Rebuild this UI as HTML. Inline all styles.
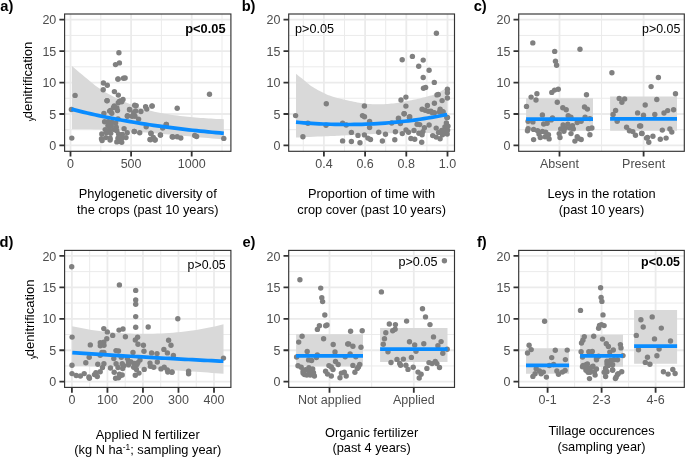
<!DOCTYPE html><html><head><meta charset="utf-8"><style>html,body{margin:0;padding:0;background:#fff;}svg{display:block;will-change:transform;font-family:"Liberation Sans",sans-serif;}</style></head><body>
<svg width="685" height="458" viewBox="0 0 685 458">
<rect width="685" height="458" fill="#fff"/>
<g id="pa">
<clipPath id="cpa"><rect x="64.6" y="14" width="166.3" height="137.3"/></clipPath>
<g clip-path="url(#cpa)">
<path d="M64.6 129.69H230.9M64.6 98.26H230.9M64.6 66.84H230.9M64.6 35.41H230.9M100.8 14V151.3M161.4 14V151.3M222 14V151.3" stroke="#EBEBEB" stroke-width="1.0" fill="none"/>
<path d="M64.6 145.4H230.9M64.6 113.98H230.9M64.6 82.55H230.9M64.6 51.12H230.9M64.6 19.7H230.9M70.5 14V151.3M131.1 14V151.3M191.7 14V151.3" stroke="#EBEBEB" stroke-width="1.8" fill="none"/>
<path d="M72.00 66.10L74.57 68.33L77.15 70.54L79.72 72.72L82.29 74.86L84.86 76.98L87.44 79.09L90.01 81.22L92.58 83.34L95.16 85.38L97.73 87.30L100.30 89.06L102.87 90.68L105.45 92.21L108.02 93.66L110.59 95.05L113.17 96.41L115.74 97.75L118.31 99.09L120.88 100.41L123.46 101.58L126.03 102.61L128.60 103.62L131.18 104.60L133.75 105.55L136.32 106.46L138.89 107.34L141.47 108.18L144.04 108.97L146.61 109.73L149.19 110.43L151.76 111.08L154.33 111.68L156.91 112.22L159.48 112.72L162.05 113.19L164.62 113.65L167.20 114.08L169.77 114.49L172.34 114.88L174.92 115.25L177.49 115.60L180.06 115.92L182.63 116.23L185.21 116.51L187.78 116.78L190.35 117.02L192.93 117.25L195.50 117.47L198.07 117.69L200.64 117.90L203.22 118.09L205.79 118.28L208.36 118.46L210.94 118.62L213.51 118.77L216.08 118.91L218.65 119.02L221.23 119.12L223.80 119.20L223.80 139.39L219.91 139.08L216.02 138.75L212.12 138.42L208.23 138.09L204.34 137.75L200.45 137.40L196.55 137.05L192.66 136.69L188.77 136.33L184.88 135.97L180.98 135.61L177.09 135.25L173.20 134.89L169.31 134.53L165.42 134.17L161.52 133.82L157.63 133.47L153.74 133.13L149.85 132.80L145.95 132.47L142.06 132.16L138.17 131.85L134.28 131.56L130.38 131.28L126.49 131.01L122.60 130.76L118.71 130.52L114.82 130.30L110.92 130.10L107.03 129.91L103.14 129.75L99.25 129.60L95.35 129.48L91.46 129.37L87.57 129.29L83.68 129.22L79.78 129.18L75.89 129.16L72.00 129.17Z" fill="#D9D9D9"/>
<g fill="#808080"><circle cx="71.8" cy="138.1" r="2.7"/><circle cx="75.1" cy="95.4" r="2.7"/><circle cx="71.4" cy="109.5" r="2.7"/><circle cx="118.9" cy="52.7" r="2.7"/><circle cx="119.4" cy="62.9" r="2.7"/><circle cx="115.5" cy="64.6" r="2.7"/><circle cx="118.1" cy="79" r="2.7"/><circle cx="125.1" cy="78" r="2.7"/><circle cx="103.4" cy="83" r="2.7"/><circle cx="107.3" cy="85.2" r="2.7"/><circle cx="103.2" cy="89.8" r="2.7"/><circle cx="117.9" cy="79.1" r="2.7"/><circle cx="123.5" cy="78.2" r="2.7"/><circle cx="114.4" cy="91.6" r="2.7"/><circle cx="118.3" cy="95.1" r="2.7"/><circle cx="107.1" cy="100.8" r="2.7"/><circle cx="120" cy="101.4" r="2.7"/><circle cx="123" cy="99.5" r="2.7"/><circle cx="107" cy="100.6" r="2.7"/><circle cx="119.6" cy="101.1" r="2.7"/><circle cx="121.7" cy="101.7" r="2.7"/><circle cx="114.3" cy="105.9" r="2.7"/><circle cx="116.9" cy="107.9" r="2.7"/><circle cx="109.6" cy="111.1" r="2.7"/><circle cx="103.9" cy="113.5" r="2.7"/><circle cx="117.5" cy="110.6" r="2.7"/><circle cx="129.5" cy="109.5" r="2.7"/><circle cx="127.4" cy="115.8" r="2.7"/><circle cx="133.7" cy="112.7" r="2.7"/><circle cx="134.7" cy="105.3" r="2.7"/><circle cx="118" cy="118.9" r="2.7"/><circle cx="134.2" cy="131.5" r="2.7"/><circle cx="136.2" cy="105.6" r="2.7"/><circle cx="129.7" cy="109.7" r="2.7"/><circle cx="135.6" cy="110.9" r="2.7"/><circle cx="140.9" cy="111.5" r="2.7"/><circle cx="145.6" cy="106.7" r="2.7"/><circle cx="146.8" cy="109.1" r="2.7"/><circle cx="152.1" cy="105.9" r="2.7"/><circle cx="127.4" cy="116.2" r="2.7"/><circle cx="132.1" cy="116.2" r="2.7"/><circle cx="135" cy="116.2" r="2.7"/><circle cx="138.6" cy="119.1" r="2.7"/><circle cx="146.2" cy="126.8" r="2.7"/><circle cx="166.3" cy="124.4" r="2.7"/><circle cx="162.7" cy="128" r="2.7"/><circle cx="134.4" cy="131.5" r="2.7"/><circle cx="139.7" cy="132.7" r="2.7"/><circle cx="150.9" cy="133.3" r="2.7"/><circle cx="160.4" cy="135" r="2.7"/><circle cx="150.4" cy="139.8" r="2.7"/><circle cx="155.1" cy="139.8" r="2.7"/><circle cx="153.3" cy="137.4" r="2.7"/><circle cx="172.2" cy="136.8" r="2.7"/><circle cx="209.5" cy="94.2" r="2.7"/><circle cx="177.2" cy="108.3" r="2.7"/><circle cx="152" cy="106.1" r="2.7"/><circle cx="166.3" cy="124.5" r="2.7"/><circle cx="151" cy="133.5" r="2.7"/><circle cx="150" cy="139.4" r="2.7"/><circle cx="155" cy="140" r="2.7"/><circle cx="160.5" cy="135.1" r="2.7"/><circle cx="172.8" cy="137" r="2.7"/><circle cx="177.2" cy="136.8" r="2.7"/><circle cx="180.8" cy="138" r="2.7"/><circle cx="194.7" cy="135.5" r="2.7"/><circle cx="196.6" cy="136.5" r="2.7"/><circle cx="223.8" cy="138.4" r="2.7"/><circle cx="104.6" cy="121.7" r="2.7"/><circle cx="108.2" cy="121.7" r="2.7"/><circle cx="111.9" cy="122.3" r="2.7"/><circle cx="115.6" cy="122.9" r="2.7"/><circle cx="107.9" cy="125.6" r="2.7"/><circle cx="111.3" cy="126" r="2.7"/><circle cx="116.2" cy="127.2" r="2.7"/><circle cx="105.2" cy="129.6" r="2.7"/><circle cx="109.5" cy="129.6" r="2.7"/><circle cx="114.3" cy="129.6" r="2.7"/><circle cx="116.8" cy="130.8" r="2.7"/><circle cx="101.8" cy="133.9" r="2.7"/><circle cx="106.4" cy="132.7" r="2.7"/><circle cx="110.7" cy="133.3" r="2.7"/><circle cx="101.5" cy="138.8" r="2.7"/><circle cx="105.8" cy="137.6" r="2.7"/><circle cx="110.1" cy="138.2" r="2.7"/><circle cx="102.1" cy="140.6" r="2.7"/><circle cx="110.1" cy="140" r="2.7"/><circle cx="124.1" cy="128.7" r="2.7"/><circle cx="118.6" cy="133.9" r="2.7"/><circle cx="122.3" cy="134.5" r="2.7"/><circle cx="126" cy="137.6" r="2.7"/><circle cx="121.7" cy="138.2" r="2.7"/><circle cx="118" cy="138.2" r="2.7"/><circle cx="116.8" cy="141.9" r="2.7"/><circle cx="121.7" cy="142.2" r="2.7"/><circle cx="119.2" cy="141.2" r="2.7"/><circle cx="127.2" cy="132.7" r="2.7"/><circle cx="118.3" cy="102.7" r="2.7"/><circle cx="113.5" cy="107.5" r="2.7"/><circle cx="110.5" cy="110.5" r="2.7"/><circle cx="111.8" cy="113.2" r="2.7"/><circle cx="120.3" cy="101.1" r="2.7"/></g>
<path d="M71.50 109.15L75.41 110.15L79.31 111.13L83.22 112.08L87.12 113.00L91.03 113.90L94.93 114.78L98.84 115.62L102.74 116.45L106.65 117.25L110.55 118.03L114.46 118.79L118.36 119.53L122.27 120.25L126.17 120.94L130.08 121.62L133.98 122.28L137.89 122.92L141.79 123.55L145.70 124.15L149.60 124.74L153.51 125.31L157.41 125.87L161.32 126.41L165.22 126.94L169.13 127.45L173.03 127.95L176.94 128.43L180.84 128.90L184.75 129.36L188.65 129.80L192.56 130.24L196.46 130.66L200.37 131.07L204.27 131.46L208.18 131.85L212.08 132.23L215.99 132.59L219.89 132.95L223.80 133.29" stroke="#0A8CFF" stroke-width="3.7" fill="none"/>
</g>
<rect x="64.6" y="14" width="166.3" height="137.3" fill="none" stroke="#333333" stroke-width="1.15"/>
<path d="M59.4 145.4H64.6M59.4 113.98H64.6M59.4 82.55H64.6M59.4 51.12H64.6M59.4 19.7H64.6M70.5 151.3V156.6M131.1 151.3V156.6M191.7 151.3V156.6" stroke="#333333" stroke-width="1.8" fill="none"/>
<g fill="#4D4D4D" font-size="12.5">
<text x="56.3" y="150" text-anchor="end">0</text>
<text x="56.3" y="118.58" text-anchor="end">5</text>
<text x="56.3" y="87.15" text-anchor="end">10</text>
<text x="56.3" y="55.73" text-anchor="end">15</text>
<text x="56.3" y="24.3" text-anchor="end">20</text>
<text x="70.5" y="168" text-anchor="middle">0</text>
<text x="131.1" y="168" text-anchor="middle">500</text>
<text x="191.7" y="168" text-anchor="middle">1000</text>
</g>
<g fill="#000" font-size="12.8" text-anchor="middle">
<text x="147.75" y="197.9">Phylogenetic diversity of</text>
<text x="147.75" y="213.7">the crops (past 10 years)</text>
</g>
<text x="225.5" y="32.8" font-size="12.8" text-anchor="end" font-weight="bold" fill="#000">p&lt;0.05</text>
<text x="13.4" y="11" font-size="14.7" font-weight="bold" text-anchor="end" fill="#000">a)</text>
</g>
<g id="pb">
<clipPath id="cpb"><rect x="288.7" y="14" width="165.8" height="137.3"/></clipPath>
<g clip-path="url(#cpb)">
<path d="M288.7 129.69H454.5M288.7 98.26H454.5M288.7 66.84H454.5M288.7 35.41H454.5M303.3 14V151.3M344.5 14V151.3M385.7 14V151.3M426.9 14V151.3" stroke="#EBEBEB" stroke-width="1.0" fill="none"/>
<path d="M288.7 145.4H454.5M288.7 113.98H454.5M288.7 82.55H454.5M288.7 51.12H454.5M288.7 19.7H454.5M323.9 14V151.3M365.1 14V151.3M406.3 14V151.3M447.5 14V151.3" stroke="#EBEBEB" stroke-width="1.8" fill="none"/>
<path d="M296.00 73.80L296.54 74.22L297.24 74.77L298.07 75.42L299.00 76.16L300.00 76.94L301.04 77.76L302.08 78.59L303.10 79.40L304.10 80.22L305.11 81.08L306.14 81.98L307.21 82.89L308.31 83.82L309.45 84.73L310.64 85.63L311.90 86.50L313.24 87.36L314.68 88.23L316.18 89.09L317.72 89.94L319.27 90.77L320.80 91.56L322.29 92.31L323.70 93.00L325.00 93.62L326.20 94.18L327.34 94.69L328.48 95.16L329.64 95.62L330.89 96.07L332.26 96.52L333.80 97.00L335.54 97.50L337.46 98.01L339.50 98.52L341.62 99.03L343.78 99.53L345.93 100.01L348.01 100.47L350.00 100.90L351.89 101.31L353.72 101.71L355.52 102.09L357.29 102.45L359.06 102.79L360.84 103.09L362.65 103.37L364.50 103.60L366.39 103.80L368.32 103.96L370.26 104.09L372.22 104.19L374.18 104.26L376.14 104.30L378.08 104.31L380.00 104.30L381.91 104.26L383.83 104.18L385.75 104.08L387.65 103.94L389.54 103.79L391.40 103.61L393.22 103.41L395.00 103.20L396.73 102.96L398.41 102.70L400.05 102.41L401.66 102.11L403.26 101.79L404.86 101.46L406.47 101.13L408.10 100.80L409.75 100.47L411.40 100.15L413.05 99.81L414.70 99.47L416.35 99.13L418.00 98.77L419.65 98.39L421.30 98.00L422.97 97.60L424.66 97.18L426.37 96.76L428.08 96.33L429.75 95.87L431.37 95.40L432.93 94.91L434.40 94.40L435.81 93.84L437.19 93.21L438.52 92.56L439.80 91.89L441.00 91.23L442.11 90.62L443.12 90.06L444.00 89.60L444.75 89.22L445.39 88.90L445.91 88.63L446.35 88.40L446.71 88.21L447.01 88.05L447.27 87.92L447.50 87.80L447.50 135.50L445.78 135.27L443.52 134.95L440.82 134.56L437.81 134.14L434.61 133.72L431.33 133.33L428.09 133.02L425.00 132.80L422.03 132.68L419.04 132.62L416.03 132.62L412.97 132.66L409.85 132.72L406.66 132.81L403.38 132.91L400.00 133.00L396.46 133.10L392.76 133.23L388.94 133.37L385.06 133.53L381.18 133.70L377.34 133.87L373.59 134.04L370.00 134.20L366.51 134.36L363.05 134.53L359.65 134.70L356.31 134.87L353.06 135.04L349.91 135.21L346.89 135.36L344.00 135.50L341.36 135.62L338.99 135.73L336.80 135.82L334.69 135.91L332.55 135.99L330.29 136.08L327.81 136.18L325.00 136.30L321.66 136.44L317.77 136.60L313.58 136.77L309.31 136.95L305.19 137.12L301.45 137.27L298.31 137.40L296.00 137.50Z" fill="#D9D9D9"/>
<g fill="#808080"><circle cx="295.6" cy="115.6" r="2.7"/><circle cx="302.9" cy="136.7" r="2.7"/><circle cx="307.9" cy="123.2" r="2.7"/><circle cx="326.3" cy="103.7" r="2.7"/><circle cx="326" cy="125.3" r="2.7"/><circle cx="342.6" cy="123.2" r="2.7"/><circle cx="346.2" cy="125" r="2.7"/><circle cx="351.4" cy="132.4" r="2.7"/><circle cx="342.6" cy="140.9" r="2.7"/><circle cx="351.4" cy="141.5" r="2.7"/><circle cx="358" cy="135.4" r="2.7"/><circle cx="360" cy="142.7" r="2.7"/><circle cx="364.4" cy="106" r="2.7"/><circle cx="362.5" cy="115.6" r="2.7"/><circle cx="364.5" cy="116.8" r="2.7"/><circle cx="369.6" cy="121.5" r="2.7"/><circle cx="369.6" cy="127.5" r="2.7"/><circle cx="364.4" cy="134.9" r="2.7"/><circle cx="367.9" cy="138.1" r="2.7"/><circle cx="370.5" cy="139.5" r="2.7"/><circle cx="378.7" cy="132.3" r="2.7"/><circle cx="385.5" cy="134.2" r="2.7"/><circle cx="382.4" cy="141" r="2.7"/><circle cx="391.7" cy="123" r="2.7"/><circle cx="398.5" cy="118.7" r="2.7"/><circle cx="400.4" cy="123.6" r="2.7"/><circle cx="395.4" cy="131.7" r="2.7"/><circle cx="394.8" cy="139.8" r="2.7"/><circle cx="404.1" cy="113.7" r="2.7"/><circle cx="409.7" cy="116.8" r="2.7"/><circle cx="402.3" cy="133.6" r="2.7"/><circle cx="406" cy="129.9" r="2.7"/><circle cx="408.5" cy="132.3" r="2.7"/><circle cx="410.9" cy="138.5" r="2.7"/><circle cx="414.7" cy="139.2" r="2.7"/><circle cx="414" cy="130.5" r="2.7"/><circle cx="417.1" cy="124.3" r="2.7"/><circle cx="428.3" cy="111.2" r="2.7"/><circle cx="432" cy="112.5" r="2.7"/><circle cx="447.5" cy="117.4" r="2.7"/><circle cx="439.5" cy="111.9" r="2.7"/><circle cx="443.2" cy="111.9" r="2.7"/><circle cx="436.4" cy="33.3" r="2.7"/><circle cx="402.2" cy="59.8" r="2.7"/><circle cx="412.4" cy="56.4" r="2.7"/><circle cx="423.2" cy="60.1" r="2.7"/><circle cx="418.7" cy="66.3" r="2.7"/><circle cx="429.1" cy="70.2" r="2.7"/><circle cx="423.2" cy="77.5" r="2.7"/><circle cx="434.3" cy="82.4" r="2.7"/><circle cx="423.5" cy="88.3" r="2.7"/><circle cx="425.6" cy="87.4" r="2.7"/><circle cx="405.9" cy="97.1" r="2.7"/><circle cx="401" cy="100" r="2.7"/><circle cx="405.9" cy="106.1" r="2.7"/><circle cx="404.2" cy="113.7" r="2.7"/><circle cx="398.5" cy="118.1" r="2.7"/><circle cx="409.4" cy="117.2" r="2.7"/><circle cx="437" cy="94.9" r="2.7"/><circle cx="438.3" cy="94.4" r="2.7"/><circle cx="442.1" cy="100.6" r="2.7"/><circle cx="447.4" cy="89.2" r="2.7"/><circle cx="447.4" cy="92.7" r="2.7"/><circle cx="447.4" cy="98" r="2.7"/><circle cx="434.4" cy="103.2" r="2.7"/><circle cx="427.4" cy="105.4" r="2.7"/><circle cx="422.1" cy="109.3" r="2.7"/><circle cx="425.2" cy="110.2" r="2.7"/><circle cx="430.9" cy="111.1" r="2.7"/><circle cx="434.4" cy="112.8" r="2.7"/><circle cx="440.1" cy="109.3" r="2.7"/><circle cx="442.3" cy="111.5" r="2.7"/><circle cx="446.8" cy="117.5" r="2.7"/><circle cx="446.4" cy="123" r="2.7"/><circle cx="448" cy="126.1" r="2.7"/><circle cx="447.6" cy="130.1" r="2.7"/><circle cx="447.2" cy="134" r="2.7"/><circle cx="444.9" cy="126.9" r="2.7"/><circle cx="436.2" cy="128.1" r="2.7"/><circle cx="441.7" cy="130.5" r="2.7"/><circle cx="438.6" cy="132.4" r="2.7"/><circle cx="432.7" cy="135.6" r="2.7"/><circle cx="436.2" cy="137.1" r="2.7"/><circle cx="440.1" cy="138.7" r="2.7"/><circle cx="442.5" cy="134.8" r="2.7"/><circle cx="444.9" cy="131.6" r="2.7"/><circle cx="429.1" cy="125" r="2.7"/><circle cx="424.4" cy="127.7" r="2.7"/><circle cx="419.7" cy="124.6" r="2.7"/><circle cx="422.9" cy="131.6" r="2.7"/><circle cx="418.9" cy="133.2" r="2.7"/><circle cx="422.1" cy="134.8" r="2.7"/><circle cx="421.7" cy="142.3" r="2.7"/></g>
<path d="M296.00 122.18L299.88 122.51L303.75 122.82L307.63 123.11L311.51 123.37L315.38 123.60L319.26 123.80L323.14 123.98L327.02 124.14L330.89 124.26L334.77 124.36L338.65 124.43L342.52 124.48L346.40 124.49L350.28 124.48L354.15 124.44L358.03 124.38L361.91 124.28L365.78 124.15L369.66 124.00L373.54 123.81L377.42 123.60L381.29 123.36L385.17 123.09L389.05 122.78L392.92 122.45L396.80 122.08L400.68 121.69L404.55 121.26L408.43 120.81L412.31 120.32L416.18 119.80L420.06 119.25L423.94 118.66L427.82 118.04L431.69 117.40L435.57 116.71L439.45 116.00L443.32 115.25L447.20 114.47" stroke="#0A8CFF" stroke-width="3.7" fill="none"/>
</g>
<rect x="288.7" y="14" width="165.8" height="137.3" fill="none" stroke="#333333" stroke-width="1.15"/>
<path d="M283.5 145.4H288.7M283.5 113.98H288.7M283.5 82.55H288.7M283.5 51.12H288.7M283.5 19.7H288.7M323.9 151.3V156.6M365.1 151.3V156.6M406.3 151.3V156.6M447.5 151.3V156.6" stroke="#333333" stroke-width="1.8" fill="none"/>
<g fill="#4D4D4D" font-size="12.5">
<text x="280.4" y="150" text-anchor="end">0</text>
<text x="280.4" y="118.58" text-anchor="end">5</text>
<text x="280.4" y="87.15" text-anchor="end">10</text>
<text x="280.4" y="55.73" text-anchor="end">15</text>
<text x="280.4" y="24.3" text-anchor="end">20</text>
<text x="323.9" y="168" text-anchor="middle">0.4</text>
<text x="365.1" y="168" text-anchor="middle">0.6</text>
<text x="406.3" y="168" text-anchor="middle">0.8</text>
<text x="447.5" y="168" text-anchor="middle">1.0</text>
</g>
<g fill="#000" font-size="12.8" text-anchor="middle">
<text x="371.6" y="197.9">Proportion of time with</text>
<text x="371.6" y="213.7">crop cover (past 10 years)</text>
</g>
<text x="295.1" y="32.9" font-size="12.6" text-anchor="start" fill="#000">p&gt;0.05</text>
<text x="255.5" y="11" font-size="14.7" font-weight="bold" text-anchor="end" fill="#000">b)</text>
</g>
<g id="pc">
<clipPath id="cpc"><rect x="518.7" y="14" width="165.6" height="137.3"/></clipPath>
<g clip-path="url(#cpc)">
<path d="M518.7 129.69H684.3M518.7 98.26H684.3M518.7 66.84H684.3M518.7 35.41H684.3M601.55 14V151.3" stroke="#EBEBEB" stroke-width="1.0" fill="none"/>
<path d="M518.7 145.4H684.3M518.7 113.98H684.3M518.7 82.55H684.3M518.7 51.12H684.3M518.7 19.7H684.3M559.5 14V151.3M643.6 14V151.3" stroke="#EBEBEB" stroke-width="1.8" fill="none"/>
<path d="M526.10 98.30H593.00V130.70H526.10Z" fill="#D9D9D9"/>
<path d="M610.10 96.40H677.00V130.80H610.10Z" fill="#D9D9D9"/>
<g fill="#808080"><circle cx="532.8" cy="42.9" r="2.7"/><circle cx="554.7" cy="51.4" r="2.7"/><circle cx="580" cy="49.3" r="2.7"/><circle cx="555.5" cy="61.2" r="2.7"/><circle cx="556.6" cy="65.2" r="2.7"/><circle cx="536.9" cy="93.8" r="2.7"/><circle cx="531.1" cy="97.1" r="2.7"/><circle cx="536" cy="100" r="2.7"/><circle cx="526.5" cy="106.4" r="2.7"/><circle cx="551.8" cy="92.4" r="2.7"/><circle cx="554.6" cy="90.1" r="2.7"/><circle cx="558.3" cy="89.2" r="2.7"/><circle cx="557.3" cy="102.3" r="2.7"/><circle cx="542.4" cy="114.9" r="2.7"/><circle cx="528.1" cy="121.3" r="2.7"/><circle cx="532.9" cy="121.9" r="2.7"/><circle cx="543.7" cy="124" r="2.7"/><circle cx="547.1" cy="123.3" r="2.7"/><circle cx="551.2" cy="119.9" r="2.7"/><circle cx="552.5" cy="117.9" r="2.7"/><circle cx="528.1" cy="128.7" r="2.7"/><circle cx="527.5" cy="130.7" r="2.7"/><circle cx="533.6" cy="129.4" r="2.7"/><circle cx="537.6" cy="130.7" r="2.7"/><circle cx="539" cy="134.1" r="2.7"/><circle cx="542.4" cy="131.4" r="2.7"/><circle cx="545.7" cy="132.1" r="2.7"/><circle cx="540.3" cy="137.5" r="2.7"/><circle cx="545.1" cy="136.8" r="2.7"/><circle cx="548.5" cy="134.8" r="2.7"/><circle cx="549.1" cy="138.9" r="2.7"/><circle cx="533.6" cy="139.6" r="2.7"/><circle cx="586.5" cy="94.8" r="2.7"/><circle cx="562.8" cy="107.7" r="2.7"/><circle cx="566.2" cy="109.7" r="2.7"/><circle cx="584.5" cy="107" r="2.7"/><circle cx="587.4" cy="109.1" r="2.7"/><circle cx="568.2" cy="115.8" r="2.7"/><circle cx="570.9" cy="117.2" r="2.7"/><circle cx="585.1" cy="117.2" r="2.7"/><circle cx="589.9" cy="118.6" r="2.7"/><circle cx="581.1" cy="121.3" r="2.7"/><circle cx="588.5" cy="128.7" r="2.7"/><circle cx="591.9" cy="128" r="2.7"/><circle cx="589.9" cy="134.8" r="2.7"/><circle cx="611.9" cy="72.7" r="2.7"/><circle cx="658.4" cy="77.5" r="2.7"/><circle cx="651.1" cy="86.6" r="2.7"/><circle cx="675.5" cy="93.8" r="2.7"/><circle cx="656.8" cy="99.5" r="2.7"/><circle cx="619.2" cy="98.4" r="2.7"/><circle cx="624.6" cy="98.9" r="2.7"/><circle cx="621.9" cy="102.3" r="2.7"/><circle cx="615.6" cy="110.4" r="2.7"/><circle cx="613.1" cy="114.5" r="2.7"/><circle cx="617.2" cy="121.3" r="2.7"/><circle cx="645.2" cy="105" r="2.7"/><circle cx="637.6" cy="112.9" r="2.7"/><circle cx="643.5" cy="115.3" r="2.7"/><circle cx="639.6" cy="126" r="2.7"/><circle cx="626.6" cy="127.3" r="2.7"/><circle cx="629.4" cy="130.7" r="2.7"/><circle cx="632.8" cy="131.6" r="2.7"/><circle cx="635.5" cy="135.2" r="2.7"/><circle cx="641.6" cy="133.4" r="2.7"/><circle cx="646.5" cy="138.1" r="2.7"/><circle cx="654.8" cy="114.4" r="2.7"/><circle cx="664" cy="113" r="2.7"/><circle cx="667.7" cy="110.6" r="2.7"/><circle cx="673.6" cy="109.7" r="2.7"/><circle cx="640.7" cy="126" r="2.7"/><circle cx="642" cy="133.5" r="2.7"/><circle cx="647.5" cy="137.5" r="2.7"/><circle cx="648.8" cy="142.2" r="2.7"/><circle cx="652.9" cy="136.2" r="2.7"/><circle cx="660.3" cy="139.3" r="2.7"/><circle cx="666.1" cy="138.1" r="2.7"/><circle cx="662.3" cy="130.1" r="2.7"/><circle cx="669.9" cy="128.9" r="2.7"/><circle cx="671.8" cy="132.1" r="2.7"/><circle cx="563.1" cy="124.9" r="2.7"/><circle cx="567.8" cy="124.2" r="2.7"/><circle cx="572.5" cy="125.7" r="2.7"/><circle cx="560.7" cy="128.9" r="2.7"/><circle cx="565.4" cy="128.1" r="2.7"/><circle cx="570.2" cy="128.1" r="2.7"/><circle cx="573.3" cy="128.9" r="2.7"/><circle cx="559.2" cy="133.6" r="2.7"/><circle cx="563.9" cy="131.2" r="2.7"/><circle cx="571" cy="133.6" r="2.7"/><circle cx="560" cy="137.5" r="2.7"/><circle cx="577.2" cy="136.7" r="2.7"/><circle cx="574.9" cy="141.1" r="2.7"/><circle cx="581.2" cy="139.5" r="2.7"/><circle cx="577.2" cy="122.6" r="2.7"/><circle cx="578.8" cy="138.6" r="2.7"/></g>
<path d="M526.1 119.15H593.0" stroke="#0A8CFF" stroke-width="3.7" fill="none"/>
<path d="M610.1 118.8H677.0" stroke="#0A8CFF" stroke-width="3.7" fill="none"/>
</g>
<rect x="518.7" y="14" width="165.6" height="137.3" fill="none" stroke="#333333" stroke-width="1.15"/>
<path d="M513.5 145.4H518.7M513.5 113.98H518.7M513.5 82.55H518.7M513.5 51.12H518.7M513.5 19.7H518.7M559.5 151.3V156.6M643.6 151.3V156.6" stroke="#333333" stroke-width="1.8" fill="none"/>
<g fill="#4D4D4D" font-size="12.5">
<text x="510.4" y="150" text-anchor="end">0</text>
<text x="510.4" y="118.58" text-anchor="end">5</text>
<text x="510.4" y="87.15" text-anchor="end">10</text>
<text x="510.4" y="55.73" text-anchor="end">15</text>
<text x="510.4" y="24.3" text-anchor="end">20</text>
<text x="559.5" y="168" text-anchor="middle">Absent</text>
<text x="643.6" y="168" text-anchor="middle">Present</text>
</g>
<g fill="#000" font-size="12.8" text-anchor="middle">
<text x="601.5" y="197.9">Leys in the rotation</text>
<text x="601.5" y="213.7">(past 10 years)</text>
</g>
<text x="680.3" y="32.8" font-size="12.4" text-anchor="end" fill="#000">p&gt;0.05</text>
<text x="486.7" y="11" font-size="14.7" font-weight="bold" text-anchor="end" fill="#000">c)</text>
</g>
<g id="pd">
<clipPath id="cpd"><rect x="64.6" y="250.4" width="166.3" height="137"/></clipPath>
<g clip-path="url(#cpd)">
<path d="M64.6 365.97H230.9M64.6 334.52H230.9M64.6 303.07H230.9M64.6 271.62H230.9M89.66 250.4V387.4M125.19 250.4V387.4M160.71 250.4V387.4M196.24 250.4V387.4" stroke="#EBEBEB" stroke-width="1.0" fill="none"/>
<path d="M64.6 381.7H230.9M64.6 350.25H230.9M64.6 318.8H230.9M64.6 287.35H230.9M64.6 255.9H230.9M71.9 250.4V387.4M107.43 250.4V387.4M142.95 250.4V387.4M178.48 250.4V387.4M214 250.4V387.4" stroke="#EBEBEB" stroke-width="1.8" fill="none"/>
<path d="M72.10 326.21L75.98 327.07L79.86 327.86L83.75 328.60L87.63 329.28L91.51 329.91L95.39 330.49L99.27 331.02L103.16 331.50L107.04 331.93L110.92 332.31L114.80 332.65L118.68 332.95L122.57 333.20L126.45 333.41L130.33 333.58L134.21 333.70L138.09 333.78L141.98 333.83L145.86 333.83L149.74 333.78L153.62 333.70L157.51 333.58L161.39 333.41L165.27 333.20L169.15 332.95L173.03 332.66L176.92 332.32L180.80 331.93L184.68 331.50L188.56 331.02L192.44 330.50L196.33 329.92L200.21 329.29L204.09 328.61L207.97 327.87L211.85 327.08L215.74 326.22L219.62 325.31L223.50 324.32L223.50 373.67L219.62 373.41L215.74 373.15L211.85 372.88L207.97 372.62L204.09 372.35L200.21 372.09L196.33 371.82L192.44 371.56L188.56 371.29L184.68 371.03L180.80 370.77L176.92 370.51L173.03 370.26L169.15 370.01L165.27 369.76L161.39 369.52L157.51 369.28L153.62 369.05L149.74 368.82L145.86 368.60L141.98 368.38L138.09 368.18L134.21 367.98L130.33 367.78L126.45 367.60L122.57 367.43L118.68 367.26L114.80 367.11L110.92 366.96L107.04 366.82L103.16 366.70L99.27 366.58L95.39 366.48L91.51 366.39L87.63 366.31L83.75 366.24L79.86 366.18L75.98 366.14L72.10 366.11Z" fill="#D9D9D9"/>
<g fill="#808080"><circle cx="71.7" cy="266.8" r="2.7"/><circle cx="119.4" cy="284.9" r="2.7"/><circle cx="135.7" cy="290.4" r="2.7"/><circle cx="135.7" cy="300" r="2.7"/><circle cx="135.7" cy="304.2" r="2.7"/><circle cx="135.7" cy="316.6" r="2.7"/><circle cx="135.7" cy="327.3" r="2.7"/><circle cx="148.2" cy="327" r="2.7"/><circle cx="177.8" cy="318.8" r="2.7"/><circle cx="72.1" cy="337.1" r="2.7"/><circle cx="90.3" cy="344.9" r="2.7"/><circle cx="103.8" cy="328.6" r="2.7"/><circle cx="107.3" cy="331.9" r="2.7"/><circle cx="112.7" cy="335.4" r="2.7"/><circle cx="106.8" cy="338.7" r="2.7"/><circle cx="100.3" cy="342.8" r="2.7"/><circle cx="103.8" cy="342.2" r="2.7"/><circle cx="100.3" cy="345.7" r="2.7"/><circle cx="104" cy="345.3" r="2.7"/><circle cx="119" cy="330.1" r="2.7"/><circle cx="123" cy="329" r="2.7"/><circle cx="125.4" cy="336.7" r="2.7"/><circle cx="137.6" cy="337.2" r="2.7"/><circle cx="135.3" cy="340" r="2.7"/><circle cx="138" cy="344.2" r="2.7"/><circle cx="143.4" cy="345.3" r="2.7"/><circle cx="116" cy="350.6" r="2.7"/><circle cx="144" cy="351.3" r="2.7"/><circle cx="133" cy="352.4" r="2.7"/><circle cx="151.6" cy="352.9" r="2.7"/><circle cx="157" cy="353.6" r="2.7"/><circle cx="168.6" cy="340.2" r="2.7"/><circle cx="171" cy="345.3" r="2.7"/><circle cx="163.9" cy="349.4" r="2.7"/><circle cx="167.4" cy="352.9" r="2.7"/><circle cx="173.4" cy="355.5" r="2.7"/><circle cx="102" cy="352.4" r="2.7"/><circle cx="72" cy="365.2" r="2.7"/><circle cx="72" cy="373.6" r="2.7"/><circle cx="76.2" cy="375.5" r="2.7"/><circle cx="80.4" cy="376" r="2.7"/><circle cx="84.2" cy="373.6" r="2.7"/><circle cx="88.9" cy="376.9" r="2.7"/><circle cx="89.4" cy="378.3" r="2.7"/><circle cx="85.8" cy="362.8" r="2.7"/><circle cx="89.2" cy="357.2" r="2.7"/><circle cx="103.9" cy="352.5" r="2.7"/><circle cx="100.2" cy="355.3" r="2.7"/><circle cx="97.8" cy="364.2" r="2.7"/><circle cx="103.9" cy="363.8" r="2.7"/><circle cx="102.5" cy="367.5" r="2.7"/><circle cx="100.2" cy="371.8" r="2.7"/><circle cx="95.9" cy="372.7" r="2.7"/><circle cx="94.5" cy="374.6" r="2.7"/><circle cx="97.3" cy="376.5" r="2.7"/><circle cx="110.5" cy="368" r="2.7"/><circle cx="113.8" cy="358.6" r="2.7"/><circle cx="116.1" cy="363.8" r="2.7"/><circle cx="118" cy="367.5" r="2.7"/><circle cx="114.2" cy="372.2" r="2.7"/><circle cx="119.4" cy="374.1" r="2.7"/><circle cx="115.6" cy="378.3" r="2.7"/><circle cx="121.3" cy="357.2" r="2.7"/><circle cx="122.2" cy="363.8" r="2.7"/><circle cx="122.7" cy="368.5" r="2.7"/><circle cx="122.2" cy="375" r="2.7"/><circle cx="127.4" cy="358.4" r="2.7"/><circle cx="118.5" cy="351" r="2.7"/><circle cx="140" cy="359.9" r="2.7"/><circle cx="137.9" cy="362.6" r="2.7"/><circle cx="123.8" cy="365.7" r="2.7"/><circle cx="128.5" cy="364.7" r="2.7"/><circle cx="133.7" cy="367.3" r="2.7"/><circle cx="136.4" cy="369.4" r="2.7"/><circle cx="135.3" cy="375.2" r="2.7"/><circle cx="139" cy="373.1" r="2.7"/><circle cx="120.1" cy="375.7" r="2.7"/><circle cx="118.5" cy="377.8" r="2.7"/><circle cx="144.2" cy="369.4" r="2.7"/><circle cx="150" cy="363.1" r="2.7"/><circle cx="150.5" cy="366.2" r="2.7"/><circle cx="153.7" cy="367.3" r="2.7"/><circle cx="157.3" cy="362" r="2.7"/><circle cx="161" cy="368.9" r="2.7"/><circle cx="164.2" cy="367.3" r="2.7"/><circle cx="167.3" cy="369.9" r="2.7"/><circle cx="167.8" cy="372" r="2.7"/><circle cx="172" cy="372" r="2.7"/><circle cx="171.9" cy="372.2" r="2.7"/><circle cx="223.5" cy="358.1" r="2.7"/><circle cx="188.6" cy="371.3" r="2.7"/><circle cx="188.6" cy="373.7" r="2.7"/><circle cx="131" cy="362" r="2.7"/><circle cx="134.5" cy="363.5" r="2.7"/><circle cx="128.5" cy="361.5" r="2.7"/><circle cx="136.9" cy="364.5" r="2.7"/></g>
<path d="M72.30 352.55L76.17 352.82L80.05 353.08L83.92 353.34L87.80 353.59L91.67 353.85L95.55 354.10L99.42 354.35L103.29 354.60L107.17 354.84L111.04 355.09L114.92 355.33L118.79 355.56L122.67 355.80L126.54 356.03L130.42 356.27L134.29 356.50L138.16 356.72L142.04 356.95L145.91 357.17L149.79 357.40L153.66 357.62L157.54 357.83L161.41 358.05L165.28 358.26L169.16 358.47L173.03 358.68L176.91 358.89L180.78 359.10L184.66 359.30L188.53 359.51L192.41 359.71L196.28 359.90L200.15 360.10L204.03 360.30L207.90 360.49L211.78 360.68L215.65 360.87L219.53 361.06L223.40 361.25" stroke="#0A8CFF" stroke-width="3.7" fill="none"/>
</g>
<rect x="64.6" y="250.4" width="166.3" height="137" fill="none" stroke="#333333" stroke-width="1.15"/>
<path d="M59.4 381.7H64.6M59.4 350.25H64.6M59.4 318.8H64.6M59.4 287.35H64.6M59.4 255.9H64.6M71.9 387.4V392.7M107.43 387.4V392.7M142.95 387.4V392.7M178.48 387.4V392.7M214 387.4V392.7" stroke="#333333" stroke-width="1.8" fill="none"/>
<g fill="#4D4D4D" font-size="12.5">
<text x="56.3" y="386.3" text-anchor="end">0</text>
<text x="56.3" y="354.85" text-anchor="end">5</text>
<text x="56.3" y="323.4" text-anchor="end">10</text>
<text x="56.3" y="291.95" text-anchor="end">15</text>
<text x="56.3" y="260.5" text-anchor="end">20</text>
<text x="71.9" y="404.1" text-anchor="middle">0</text>
<text x="107.43" y="404.1" text-anchor="middle">100</text>
<text x="142.95" y="404.1" text-anchor="middle">200</text>
<text x="178.48" y="404.1" text-anchor="middle">300</text>
<text x="214" y="404.1" text-anchor="middle">400</text>
</g>
<g fill="#000" font-size="12.8" text-anchor="middle">
<text x="147.75" y="439.1">Applied N fertilizer</text>
<text x="147.75" y="454.3">(kg N ha<tspan font-size="8.4" dy="-4.1">-1</tspan><tspan dy="4.1">; sampling year)</tspan></text>
</g>
<text x="225.7" y="269.4" font-size="12.35" text-anchor="end" fill="#000">p&gt;0.05</text>
<text x="13.4" y="247" font-size="14.7" font-weight="bold" text-anchor="end" fill="#000">d)</text>
</g>
<g id="pe">
<clipPath id="cpe"><rect x="288.7" y="250.4" width="165.8" height="137"/></clipPath>
<g clip-path="url(#cpe)">
<path d="M288.7 365.97H454.5M288.7 334.52H454.5M288.7 303.07H454.5M288.7 271.62H454.5M371.65 250.4V387.4" stroke="#EBEBEB" stroke-width="1.0" fill="none"/>
<path d="M288.7 381.7H454.5M288.7 350.25H454.5M288.7 318.8H454.5M288.7 287.35H454.5M288.7 255.9H454.5M329.5 250.4V387.4M413.8 250.4V387.4" stroke="#EBEBEB" stroke-width="1.8" fill="none"/>
<path d="M296.10 334.20H363.00V366.60H296.10Z" fill="#D9D9D9"/>
<path d="M380.10 327.90H447.50V361.90H380.10Z" fill="#D9D9D9"/>
<g fill="#808080"><circle cx="299.9" cy="279.7" r="2.7"/><circle cx="320.7" cy="288.1" r="2.7"/><circle cx="321.8" cy="297.8" r="2.7"/><circle cx="322.6" cy="301.6" r="2.7"/><circle cx="324.8" cy="315" r="2.7"/><circle cx="319.4" cy="325.7" r="2.7"/><circle cx="317.4" cy="329.4" r="2.7"/><circle cx="325.7" cy="325.7" r="2.7"/><circle cx="302.1" cy="336.2" r="2.7"/><circle cx="298.7" cy="342.1" r="2.7"/><circle cx="323.6" cy="338.8" r="2.7"/><circle cx="307.2" cy="351.5" r="2.7"/><circle cx="296.6" cy="357" r="2.7"/><circle cx="308.6" cy="359.9" r="2.7"/><circle cx="311.6" cy="360.5" r="2.7"/><circle cx="317.3" cy="354.9" r="2.7"/><circle cx="316.4" cy="357.6" r="2.7"/><circle cx="298" cy="365.8" r="2.7"/><circle cx="301.2" cy="367.3" r="2.7"/><circle cx="308.9" cy="367.6" r="2.7"/><circle cx="312.7" cy="368.9" r="2.7"/><circle cx="303.1" cy="371.3" r="2.7"/><circle cx="304.5" cy="374.5" r="2.7"/><circle cx="310.2" cy="375" r="2.7"/><circle cx="314.4" cy="376" r="2.7"/><circle cx="309.2" cy="371.7" r="2.7"/><circle cx="313.5" cy="372.7" r="2.7"/><circle cx="333.2" cy="344.5" r="2.7"/><circle cx="335" cy="352" r="2.7"/><circle cx="335.5" cy="361.5" r="2.7"/><circle cx="338.2" cy="364.5" r="2.7"/><circle cx="328.9" cy="365.6" r="2.7"/><circle cx="331.3" cy="367" r="2.7"/><circle cx="325.6" cy="371.3" r="2.7"/><circle cx="327.5" cy="374.1" r="2.7"/><circle cx="331.3" cy="376" r="2.7"/><circle cx="340" cy="377.8" r="2.7"/><circle cx="327" cy="325" r="2.7"/><circle cx="350.6" cy="331.2" r="2.7"/><circle cx="362.2" cy="330.8" r="2.7"/><circle cx="348.7" cy="343.9" r="2.7"/><circle cx="352.9" cy="346.2" r="2.7"/><circle cx="361" cy="347.2" r="2.7"/><circle cx="345.2" cy="356.8" r="2.7"/><circle cx="350.1" cy="353.9" r="2.7"/><circle cx="355.8" cy="356.8" r="2.7"/><circle cx="352.9" cy="365.4" r="2.7"/><circle cx="359.7" cy="364.5" r="2.7"/><circle cx="354.9" cy="372.2" r="2.7"/><circle cx="341.4" cy="373.1" r="2.7"/><circle cx="344.3" cy="372.2" r="2.7"/><circle cx="346.2" cy="376" r="2.7"/><circle cx="444.4" cy="260.8" r="2.7"/><circle cx="381.4" cy="291.9" r="2.7"/><circle cx="422.5" cy="308.8" r="2.7"/><circle cx="425.5" cy="316.9" r="2.7"/><circle cx="406.6" cy="321.1" r="2.7"/><circle cx="389.3" cy="324" r="2.7"/><circle cx="395.4" cy="324.6" r="2.7"/><circle cx="430" cy="324.6" r="2.7"/><circle cx="392.7" cy="330.7" r="2.7"/><circle cx="395.1" cy="329.2" r="2.7"/><circle cx="385.8" cy="332.7" r="2.7"/><circle cx="384.5" cy="338.8" r="2.7"/><circle cx="433.5" cy="336.9" r="2.7"/><circle cx="383.3" cy="344.2" r="2.7"/><circle cx="409.5" cy="341.7" r="2.7"/><circle cx="414.7" cy="344.9" r="2.7"/><circle cx="423.8" cy="343.7" r="2.7"/><circle cx="441.1" cy="341.6" r="2.7"/><circle cx="437.9" cy="345.8" r="2.7"/><circle cx="388" cy="351.8" r="2.7"/><circle cx="416" cy="351.2" r="2.7"/><circle cx="447.2" cy="349.3" r="2.7"/><circle cx="442.8" cy="353.2" r="2.7"/><circle cx="411.4" cy="357.4" r="2.7"/><circle cx="391" cy="362.5" r="2.7"/><circle cx="397" cy="359.4" r="2.7"/><circle cx="403.4" cy="359.1" r="2.7"/><circle cx="399.7" cy="363.5" r="2.7"/><circle cx="400.6" cy="365.2" r="2.7"/><circle cx="405.9" cy="365.2" r="2.7"/><circle cx="408" cy="369.4" r="2.7"/><circle cx="413.2" cy="367.3" r="2.7"/><circle cx="418" cy="372.1" r="2.7"/><circle cx="421.1" cy="374.2" r="2.7"/><circle cx="419.2" cy="378" r="2.7"/><circle cx="426.9" cy="368.4" r="2.7"/><circle cx="429" cy="362.6" r="2.7"/><circle cx="432.1" cy="363.6" r="2.7"/><circle cx="435.3" cy="361.5" r="2.7"/><circle cx="436.9" cy="363.6" r="2.7"/><circle cx="439.5" cy="367.5" r="2.7"/><circle cx="347.7" cy="344" r="2.7"/><circle cx="357.3" cy="368.4" r="2.7"/><circle cx="333" cy="369.5" r="2.7"/><circle cx="305.6" cy="369.6" r="2.7"/><circle cx="306.8" cy="375" r="2.7"/><circle cx="303.2" cy="373.2" r="2.7"/><circle cx="358.5" cy="367" r="2.7"/></g>
<path d="M296.1 355.8H363.0" stroke="#0A8CFF" stroke-width="3.7" fill="none"/>
<path d="M380.1 349.1H447.5" stroke="#0A8CFF" stroke-width="3.7" fill="none"/>
</g>
<rect x="288.7" y="250.4" width="165.8" height="137" fill="none" stroke="#333333" stroke-width="1.15"/>
<path d="M283.5 381.7H288.7M283.5 350.25H288.7M283.5 318.8H288.7M283.5 287.35H288.7M283.5 255.9H288.7M329.5 387.4V392.7M413.8 387.4V392.7" stroke="#333333" stroke-width="1.8" fill="none"/>
<g fill="#4D4D4D" font-size="12.5">
<text x="280.4" y="386.3" text-anchor="end">0</text>
<text x="280.4" y="354.85" text-anchor="end">5</text>
<text x="280.4" y="323.4" text-anchor="end">10</text>
<text x="280.4" y="291.95" text-anchor="end">15</text>
<text x="280.4" y="260.5" text-anchor="end">20</text>
<text x="329.5" y="404.1" text-anchor="middle">Not applied</text>
<text x="413.8" y="404.1" text-anchor="middle">Applied</text>
</g>
<g fill="#000" font-size="12.8" text-anchor="middle">
<text x="371.6" y="436.5">Organic fertilizer</text>
<text x="371.6" y="452.3">(past 4 years)</text>
</g>
<text x="437.4" y="266.3" font-size="12.6" text-anchor="end" fill="#000">p&gt;0.05</text>
<text x="255.5" y="247" font-size="14.7" font-weight="bold" text-anchor="end" fill="#000">e)</text>
</g>
<g id="pf">
<clipPath id="cpf"><rect x="518.7" y="250.4" width="165.6" height="137"/></clipPath>
<g clip-path="url(#cpf)">
<path d="M518.7 365.97H684.3M518.7 334.52H684.3M518.7 303.07H684.3M518.7 271.62H684.3M574.6 250.4V387.4M628.6 250.4V387.4" stroke="#EBEBEB" stroke-width="1.0" fill="none"/>
<path d="M518.7 381.7H684.3M518.7 350.25H684.3M518.7 318.8H684.3M518.7 287.35H684.3M518.7 255.9H684.3M547.6 250.4V387.4M601.6 250.4V387.4M655.6 250.4V387.4" stroke="#EBEBEB" stroke-width="1.8" fill="none"/>
<path d="M526.00 348.30H569.10V373.70H526.00Z" fill="#D9D9D9"/>
<path d="M580.10 334.80H623.00V366.80H580.10Z" fill="#D9D9D9"/>
<path d="M634.10 310.00H677.10V363.75H634.10Z" fill="#D9D9D9"/>
<g fill="#808080"><circle cx="544.6" cy="321.3" r="2.7"/><circle cx="529.1" cy="345.2" r="2.7"/><circle cx="531.2" cy="349.6" r="2.7"/><circle cx="527.5" cy="353" r="2.7"/><circle cx="555.3" cy="350.2" r="2.7"/><circle cx="567.2" cy="350.1" r="2.7"/><circle cx="551.7" cy="357.6" r="2.7"/><circle cx="565.4" cy="359.6" r="2.7"/><circle cx="549.3" cy="365.5" r="2.7"/><circle cx="553.6" cy="364.5" r="2.7"/><circle cx="536.2" cy="368.8" r="2.7"/><circle cx="539.5" cy="371" r="2.7"/><circle cx="543.3" cy="372.1" r="2.7"/><circle cx="532.9" cy="376.4" r="2.7"/><circle cx="535.1" cy="373.7" r="2.7"/><circle cx="546.4" cy="377.1" r="2.7"/><circle cx="556.9" cy="371" r="2.7"/><circle cx="558.5" cy="374.3" r="2.7"/><circle cx="562.4" cy="372.1" r="2.7"/><circle cx="565.1" cy="370.5" r="2.7"/><circle cx="541.1" cy="373.7" r="2.7"/><circle cx="600.6" cy="287.7" r="2.7"/><circle cx="601.1" cy="297.5" r="2.7"/><circle cx="601.9" cy="301.4" r="2.7"/><circle cx="580.5" cy="310.4" r="2.7"/><circle cx="603" cy="314.9" r="2.7"/><circle cx="599.5" cy="325.5" r="2.7"/><circle cx="604.1" cy="325.6" r="2.7"/><circle cx="601.5" cy="324.6" r="2.7"/><circle cx="598.6" cy="328.3" r="2.7"/><circle cx="584.3" cy="336.7" r="2.7"/><circle cx="593.7" cy="336.3" r="2.7"/><circle cx="602.5" cy="339.1" r="2.7"/><circle cx="582.9" cy="340.2" r="2.7"/><circle cx="581.5" cy="343" r="2.7"/><circle cx="606.3" cy="343.7" r="2.7"/><circle cx="608.4" cy="346.5" r="2.7"/><circle cx="620.4" cy="344.6" r="2.7"/><circle cx="621" cy="347.9" r="2.7"/><circle cx="581.1" cy="351.7" r="2.7"/><circle cx="588.8" cy="351.7" r="2.7"/><circle cx="592.3" cy="351.4" r="2.7"/><circle cx="613.3" cy="350" r="2.7"/><circle cx="609.8" cy="352.1" r="2.7"/><circle cx="582.5" cy="357" r="2.7"/><circle cx="598.6" cy="356.3" r="2.7"/><circle cx="596.5" cy="359.8" r="2.7"/><circle cx="623" cy="355.6" r="2.7"/><circle cx="617.5" cy="359.8" r="2.7"/><circle cx="609.1" cy="361.9" r="2.7"/><circle cx="607" cy="364" r="2.7"/><circle cx="612.6" cy="364.7" r="2.7"/><circle cx="582.5" cy="366.8" r="2.7"/><circle cx="586" cy="364.7" r="2.7"/><circle cx="588.8" cy="368.2" r="2.7"/><circle cx="592.3" cy="366.8" r="2.7"/><circle cx="596.5" cy="368.9" r="2.7"/><circle cx="586" cy="370.3" r="2.7"/><circle cx="590.2" cy="372.3" r="2.7"/><circle cx="595.1" cy="375.1" r="2.7"/><circle cx="589.5" cy="378.6" r="2.7"/><circle cx="605.6" cy="368.2" r="2.7"/><circle cx="607" cy="371.7" r="2.7"/><circle cx="612.6" cy="370.3" r="2.7"/><circle cx="604.2" cy="372.3" r="2.7"/><circle cx="605.6" cy="376.5" r="2.7"/><circle cx="617.5" cy="374.4" r="2.7"/><circle cx="621.7" cy="371.7" r="2.7"/><circle cx="615.4" cy="378.6" r="2.7"/><circle cx="652.2" cy="316.9" r="2.7"/><circle cx="640.9" cy="319.8" r="2.7"/><circle cx="643.2" cy="327" r="2.7"/><circle cx="661.3" cy="328.1" r="2.7"/><circle cx="636.3" cy="335.4" r="2.7"/><circle cx="654.5" cy="338.9" r="2.7"/><circle cx="670.5" cy="341" r="2.7"/><circle cx="638.5" cy="349.7" r="2.7"/><circle cx="659.1" cy="349.1" r="2.7"/><circle cx="656.9" cy="355.7" r="2.7"/><circle cx="647.5" cy="357.2" r="2.7"/><circle cx="645.3" cy="362.4" r="2.7"/><circle cx="649.9" cy="364.3" r="2.7"/><circle cx="663.4" cy="371.8" r="2.7"/><circle cx="668.1" cy="374.1" r="2.7"/><circle cx="672.8" cy="369.4" r="2.7"/><circle cx="675.1" cy="373.5" r="2.7"/><circle cx="583.2" cy="365.4" r="2.7"/><circle cx="587.4" cy="364" r="2.7"/><circle cx="593" cy="366.1" r="2.7"/><circle cx="590.2" cy="370.3" r="2.7"/><circle cx="586" cy="368.2" r="2.7"/><circle cx="588.1" cy="372.3" r="2.7"/><circle cx="594.4" cy="371.7" r="2.7"/><circle cx="607" cy="361.2" r="2.7"/><circle cx="610.5" cy="360.5" r="2.7"/><circle cx="608.4" cy="365.4" r="2.7"/><circle cx="605.6" cy="369.6" r="2.7"/><circle cx="612.6" cy="369.6" r="2.7"/><circle cx="614" cy="359.8" r="2.7"/><circle cx="618.2" cy="373.7" r="2.7"/><circle cx="616.1" cy="377.2" r="2.7"/><circle cx="596.5" cy="358.4" r="2.7"/></g>
<path d="M526 365.3H569.1" stroke="#0A8CFF" stroke-width="3.7" fill="none"/>
<path d="M580.1 355.8H623" stroke="#0A8CFF" stroke-width="3.7" fill="none"/>
<path d="M634.1 346.1H677.1" stroke="#0A8CFF" stroke-width="3.7" fill="none"/>
</g>
<rect x="518.7" y="250.4" width="165.6" height="137" fill="none" stroke="#333333" stroke-width="1.15"/>
<path d="M513.5 381.7H518.7M513.5 350.25H518.7M513.5 318.8H518.7M513.5 287.35H518.7M513.5 255.9H518.7M547.6 387.4V392.7M601.6 387.4V392.7M655.6 387.4V392.7" stroke="#333333" stroke-width="1.8" fill="none"/>
<g fill="#4D4D4D" font-size="12.5">
<text x="510.4" y="386.3" text-anchor="end">0</text>
<text x="510.4" y="354.85" text-anchor="end">5</text>
<text x="510.4" y="323.4" text-anchor="end">10</text>
<text x="510.4" y="291.95" text-anchor="end">15</text>
<text x="510.4" y="260.5" text-anchor="end">20</text>
<text x="547.6" y="404.1" text-anchor="middle">0-1</text>
<text x="601.6" y="404.1" text-anchor="middle">2-3</text>
<text x="655.6" y="404.1" text-anchor="middle">4-6</text>
</g>
<g fill="#000" font-size="12.8" text-anchor="middle">
<text x="601.5" y="435.2">Tillage occurences</text>
<text x="601.5" y="450.8">(sampling year)</text>
</g>
<text x="680" y="266.2" font-size="12.4" text-anchor="end" font-weight="bold" fill="#000">p&lt;0.05</text>
<text x="486.7" y="247" font-size="14.7" font-weight="bold" text-anchor="end" fill="#000">f)</text>
</g>
<text transform="translate(31.8 82.05) rotate(-90)" x="-39.15" font-size="13" fill="#000"><tspan font-size="8.2" dy="2.5">y</tspan><tspan dx="-1.2" dy="-2.5">denitrification</tspan></text>
<text transform="translate(33.6 319.9) rotate(-90)" x="-39.15" font-size="13" fill="#000"><tspan font-size="8.2" dy="2.5">y</tspan><tspan dx="-1.2" dy="-2.5">denitrification</tspan></text>
</svg></body></html>
